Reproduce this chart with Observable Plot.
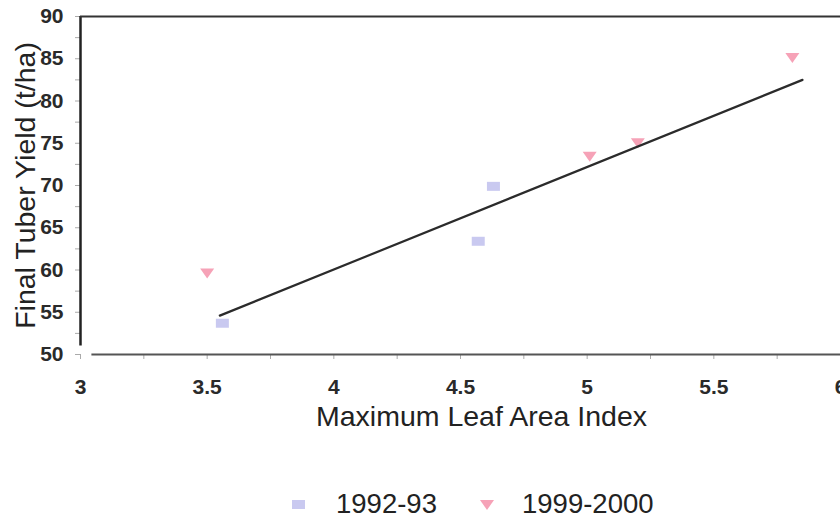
<!DOCTYPE html>
<html>
<head>
<meta charset="utf-8">
<script src="https://cdn.jsdelivr.net/npm/d3@7"></script>
<script src="https://cdn.jsdelivr.net/npm/@observablehq/plot@0.6"></script>
<style>
  html, body { margin: 0; padding: 0; background: #fff; }
  #chart { width: 840px; font-family: "Liberation Sans", Arial, sans-serif; }
  #legend { position: relative; width: 840px; height: 83px; color: #222;
            font-family: "Liberation Sans", Arial, sans-serif; font-size: 27.5px; }
  #legend .item { position: absolute; top: 49px; line-height: 30px; }
  #legend svg { position: absolute; }
</style>
</head>
<body>
<div id="chart"></div>
<script>
// Season labels
const seasons = ["1992-93", "1999-2000"];

// Maximum leaf area index and final tuber yield (t/ha), per season
const lai9293 = [3.56, 4.57, 4.63];
const yield9293 = [53.7, 63.4, 69.9];
const lai9900 = [3.50, 5.01, 5.20, 5.81];
const yield9900 = [59.6, 73.4, 75.0, 85.1];

// Fitted trend line end points
const trendLai = [3.55, 5.85];
const trendYield = [54.6, 82.5];

// Axis ticks
const xTicks = [3, 3.5, 4, 4.5, 5, 5.5, 6];
const yTicks = [50, 55, 60, 65, 70, 75, 80, 85, 90];
const yMinor = [52.5, 57.5, 62.5, 67.5, 72.5, 77.5, 82.5, 87.5];
const xMinor = [3.25, 3.75, 4.25, 4.75, 5.25, 5.75];

const colors = { "1992-93": "#c9c9f0", "1999-2000": "#f6a2b7" };

// Marker shapes: a flat rectangle and a downward triangle
const flatSquare = { draw(ctx) { ctx.rect(-6.5, -4.5, 13, 9); } };
const triangleDown = { draw(ctx) { ctx.moveTo(-7, -5); ctx.lineTo(7, -5); ctx.lineTo(0, 5); ctx.closePath(); } };

const pts9293 = lai9293.map((x, i) => ({ lai: x, yield: yield9293[i], season: seasons[0] }));
const pts9900 = lai9900.map((x, i) => ({ lai: x, yield: yield9900[i], season: seasons[1] }));
const trend = trendLai.map((x, i) => ({ lai: x, yield: trendYield[i] }));

const tickFont = { fontSize: 21, fontWeight: "bold", fill: "#2a2a2a", tickFormat: d => String(d) };

const chart = Plot.plot({
  width: 840,
  height: 440,
  marginLeft: 80,
  marginRight: 0,
  marginTop: 16,
  marginBottom: 86,
  style: { fontFamily: "Liberation Sans, Arial, sans-serif", background: "#fff", overflow: "visible" },
  x: { domain: [3, 6] },
  y: { domain: [50, 90] },
  marks: [
    // faint minor tick marks
    Plot.axisY(yMinor.concat(yTicks), { tickSize: 5, text: null, label: null, stroke: "#aaa", strokeWidth: 1 }),
    Plot.axisX(xMinor.concat(xTicks), { tickSize: 5, text: null, label: null, stroke: "#aaa", strokeWidth: 1 }),
    // tick labels
    Plot.axisY(yTicks, { tickSize: 0, tickPadding: 17, label: null, ...tickFont }),
    Plot.axisX(xTicks, { tickSize: 0, tickPadding: 25, label: null, ...tickFont }),
    // frame lines
    Plot.ruleX([3], { y1: 51, y2: 90, stroke: "#222", strokeWidth: 2.5 }),
    Plot.ruleY([90], { x1: 3, x2: 6, stroke: "#333", strokeWidth: 2 }),
    Plot.ruleY([50], { x1: 3.045, x2: 6, stroke: "#555", strokeWidth: 2 }),
    // axis titles
    Plot.text(["Maximum Leaf Area Index"], { frameAnchor: "bottom", dy: 62, dx: 21, fontSize: 28.5, fill: "#222", lineAnchor: "middle", textAnchor: "middle" }),
    Plot.text(["Final Tuber Yield (t/ha)"], { frameAnchor: "left", dx: -55, rotate: -90, fontSize: 28.5, fill: "#222", lineAnchor: "middle", textAnchor: "middle" }),
    // data
    Plot.dot(pts9293, { x: "lai", y: "yield", symbol: () => flatSquare, fill: colors["1992-93"], stroke: null }),
    Plot.dot(pts9900, { x: "lai", y: "yield", symbol: () => triangleDown, fill: colors["1999-2000"], stroke: null }),
    Plot.line(trend, { x: "lai", y: "yield", stroke: "#2b2b2b", strokeWidth: 2.2 })
  ]
});
document.getElementById("chart").appendChild(chart);
</script>
<div id="legend"></div>
<script>
// Legend: marker + season name
const legend = document.getElementById("legend");
const legendItems = [
  { season: seasons[0], markLeft: 291, textLeft: 336, path: "M1,3h13v9h-13z" },
  { season: seasons[1], markLeft: 479, textLeft: 522, path: "M1,3h14l-7,10z" }
];
for (const it of legendItems) {
  const sw = document.createElementNS("http://www.w3.org/2000/svg", "svg");
  sw.setAttribute("width", 16); sw.setAttribute("height", 16);
  sw.style.left = it.markLeft + "px"; sw.style.top = "57px";
  const p = document.createElementNS("http://www.w3.org/2000/svg", "path");
  p.setAttribute("d", it.path); p.setAttribute("fill", colors[it.season]);
  sw.appendChild(p); legend.appendChild(sw);
  const t = document.createElement("div");
  t.className = "item"; t.style.left = it.textLeft + "px"; t.textContent = it.season;
  legend.appendChild(t);
}
</script>
</body>
</html>
